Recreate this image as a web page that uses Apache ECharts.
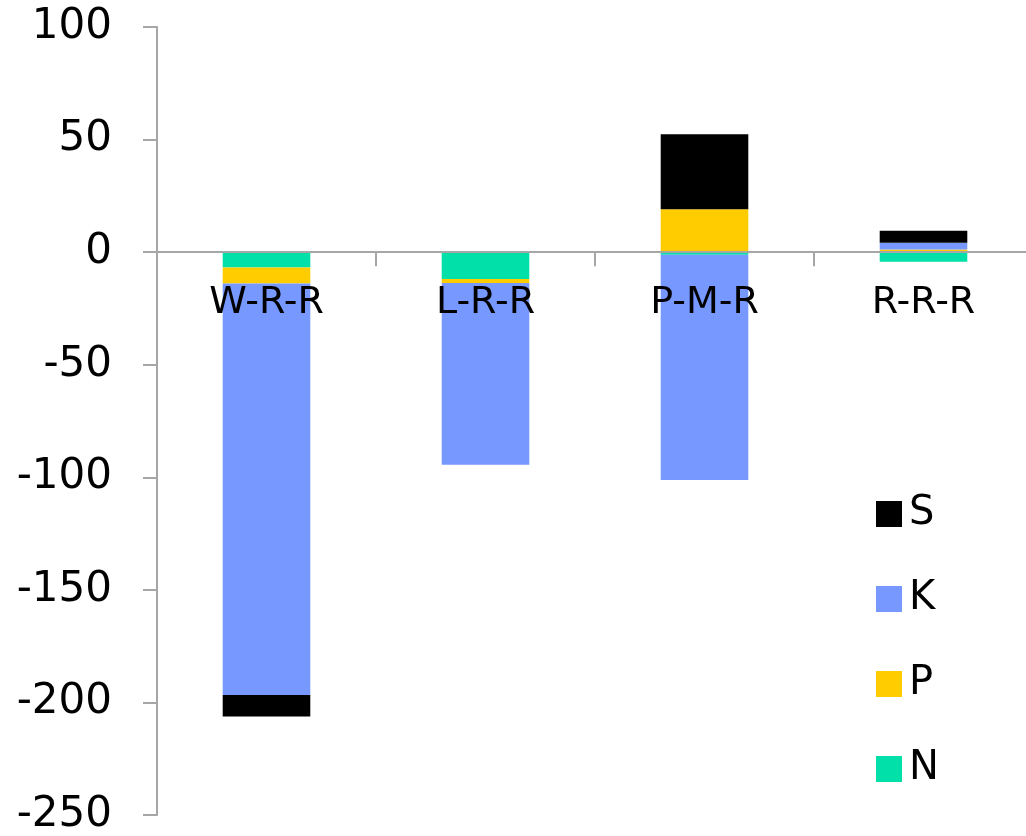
<!DOCTYPE html>
<html>
<head>
<meta charset="utf-8">
<script src="https://cdn.jsdelivr.net/npm/echarts@6/dist/echarts.min.js"></script>
<style>
  html, body { margin: 0; padding: 0; background: #fff; }
  #chart { width: 1026px; height: 836px; }
</style>
</head>
<body>
<div id="chart"></div>
<script>
// Nutrient balance per rotation
const categories = ['W-R-R', 'L-R-R', 'P-M-R', 'R-R-R'];
const seriesN = [-6.8, -11.9, -1.2, -4.3];
const seriesP = [-7.1, -1.8, 19.1, 1.2];
const seriesK = [-182.8, -80.7, -100.0, 3.0];
const seriesS = [-9.6, 0, 33.3, 5.3];
const legendOrder = ['S', 'K', 'P', 'N'];

const FONT = 'DejaVu Sans';
const Y_MIN = -250, Y_MAX = 100;
const GRID_TOP = 27, GRID_BOTTOM = 21, HEIGHT = 836;

// shift the category axis up so it sits on the zero line
const plotH = HEIGHT - GRID_TOP - GRID_BOTTOM;
const zeroOffset = -plotH * (0 - Y_MIN) / (Y_MAX - Y_MIN);

const chart = echarts.init(document.getElementById('chart'));

function bar(name, data, color) {
  return {
    name: name,
    type: 'bar',
    stack: 'total',
    barWidth: '40%',
    data: data,
    itemStyle: { color: color },
    emphasis: { disabled: true }
  };
}

chart.setOption({
  animation: false,
  textStyle: { fontFamily: FONT },
  grid: { left: 157, right: -7, top: GRID_TOP, bottom: GRID_BOTTOM, outerBoundsMode: 'none', containLabel: false },
  legend: {
    orient: 'vertical',
    left: 871,
    top: 489,
    data: legendOrder,
    icon: 'rect',
    itemWidth: 26,
    itemHeight: 26,
    itemGap: 45,
    textStyle: { fontFamily: FONT, fontSize: 40, color: '#000', lineHeight: 40, padding: [0, 0, 0, 2] }
  },
  xAxis: {
    type: 'category',
    data: categories,
    z: 5,
    offset: zeroOffset,
    axisLine: { onZero: false, lineStyle: { color: '#a6a6a6', width: 2 } },
    axisTick: { show: true, length: 14, alignWithLabel: false, lineStyle: { color: '#a6a6a6', width: 2 } },
    axisLabel: { fontFamily: FONT, fontSize: 38, color: '#000', margin: 32 },
    splitLine: { show: false }
  },
  yAxis: {
    type: 'value',
    min: Y_MIN,
    max: Y_MAX,
    interval: 50,
    axisLine: { show: true, lineStyle: { color: '#a6a6a6', width: 2 } },
    axisTick: { show: true, length: 14, inside: false, lineStyle: { color: '#a6a6a6', width: 2 } },
    axisLabel: { fontFamily: FONT, fontSize: 42, color: '#000', margin: 45 },
    splitLine: { show: false }
  },
  series: [
    bar('N', seriesN, '#00e0a8'),
    bar('P', seriesP, '#ffcc00'),
    bar('K', seriesK, '#7799ff'),
    bar('S', seriesS, '#000000')
  ]
});
</script>
</body>
</html>
